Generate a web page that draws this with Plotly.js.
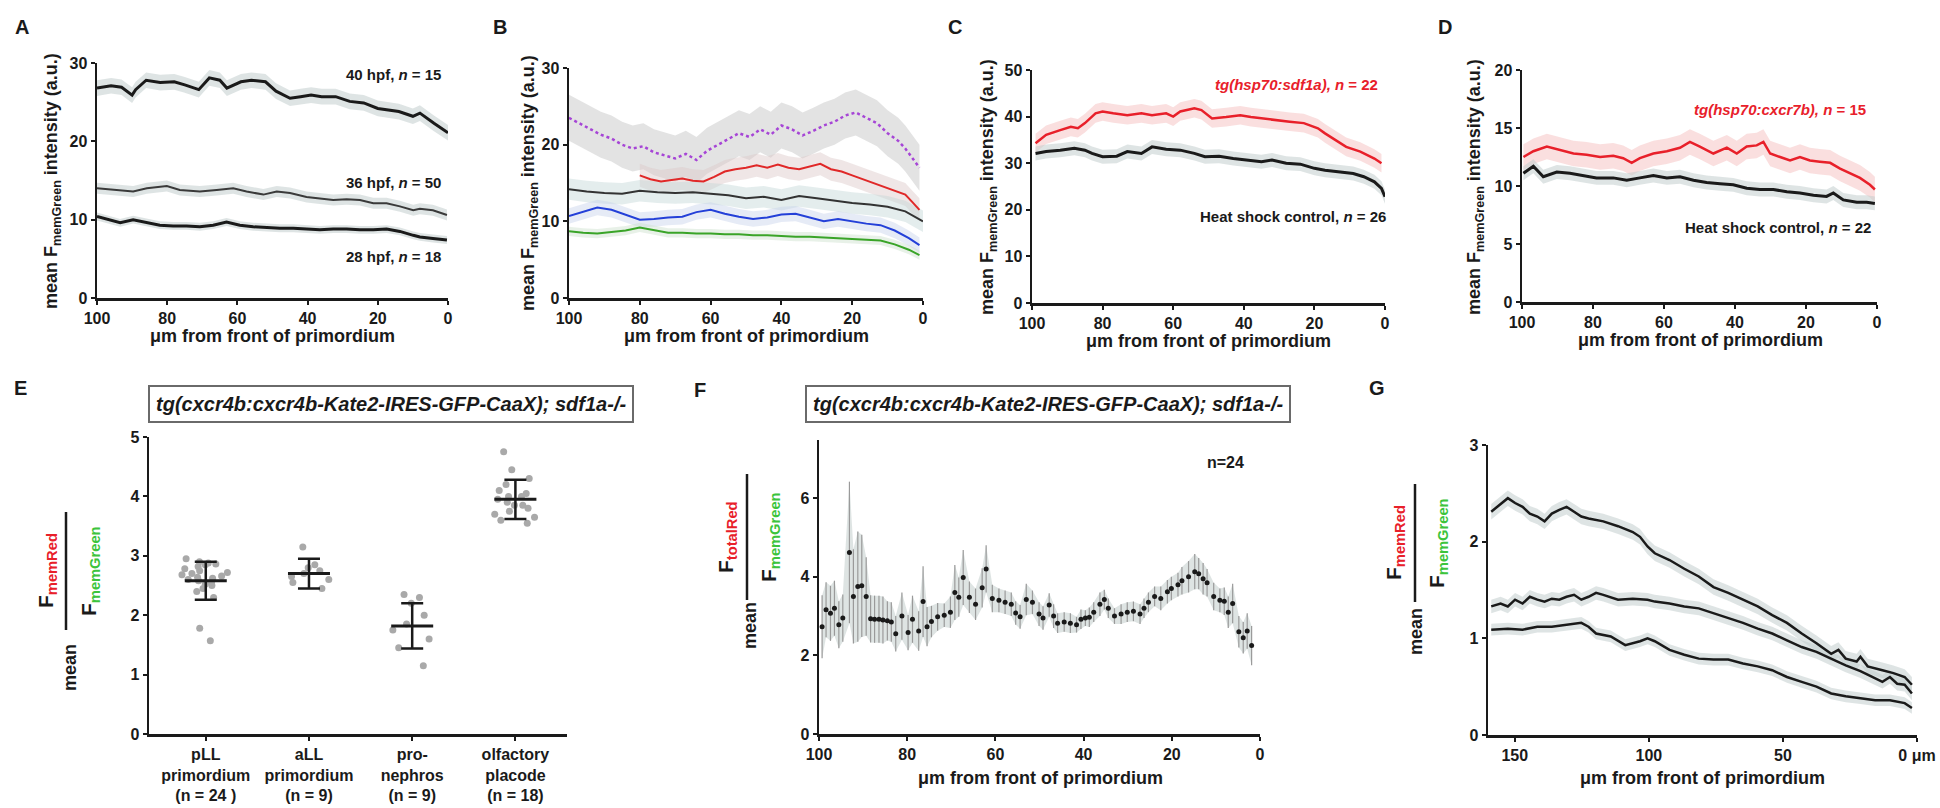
<!DOCTYPE html>
<html><head><meta charset="utf-8">
<script src="https://cdn.plot.ly/plotly-3.0.1.min.js"></script>
<style>html,body{margin:0;padding:0;background:#fff}#chart{width:1940px;height:808px}</style>
</head><body><div id="chart"></div>
<script>
// ---------- Panel A ----------
const a40X = [100,96,93,90,89,86,82,78,75,71,68,65,63,59,56,52,49,45,42,39,36,32,28,24,20,17,14,10,8,4,0];
const a40Y = [26.8,27.1,26.9,25.9,26.6,27.8,27.5,27.6,27.2,26.6,28.1,27.8,26.8,27.6,27.8,27.6,26.4,25.5,25.7,25.9,25.7,25.7,25.1,24.9,24.2,24.0,23.8,23.2,23.6,22.3,21.1];
const a36X = [100,95.4,89.7,85.8,80.1,76.4,70.7,65.9,61.2,57.4,52.6,48.8,45.0,40.3,36.5,32.7,28.9,25.1,21.3,17.5,13.7,9.9,8.0,4.3,0.3];
const a36Y = [14.0,13.8,13.6,14.0,14.3,13.8,13.6,13.8,14.0,13.6,13.2,13.6,13.4,12.9,12.7,12.5,12.6,12.5,12.1,12.1,11.7,11.2,11.4,11.2,10.6];
const a28X = [100,96.3,93.4,89.7,85.8,82.1,78.3,74.5,70.7,66.9,63.1,59.3,55.5,51.7,47.9,44.1,40.3,36.5,32.7,28.9,25.1,21.3,17.5,13.7,9.9,8.0,4.3,0.3];
const a28Y = [10.4,10.0,9.6,10.0,9.6,9.3,9.2,9.2,9.1,9.3,9.7,9.3,9.1,9.0,8.9,8.9,8.8,8.7,8.8,8.8,8.7,8.7,8.8,8.5,8.0,7.8,7.6,7.4];
const aSem = [1.0, 0.7, 0.5];
const aLabels = ["40 hpf, <i>n</i> = 15", "36 hpf, <i>n</i> = 50", "28 hpf, <i>n</i> = 18"];

// ---------- Panel B ----------
const bPurX = [100,97,94,91,88,85,82,79,76,73,70,67,64,61,58,55,52,49,46,43,40,37,34,31,28,25,22,19,16,13,10,7,5,3,1];
const bPurY = [23.5,22.8,22.0,21.3,20.8,20.0,19.5,19.8,19.0,18.6,18.2,18.8,18.0,19.2,20.0,20.8,21.5,21.0,22.0,21.3,22.5,22.0,21.2,21.8,22.5,23.0,23.8,24.2,23.5,22.8,21.5,20.5,19.5,18.3,17.0];
const bRedX = [80,77,74,71,68,65,62,59,56,53,50,47,44,41,38,35,32,29,26,23,20,17,14,11,8,5,3,1];
const bRedY = [16.0,15.5,15.2,15.4,15.6,15.3,15.2,15.8,16.5,16.8,17.0,17.3,17.0,17.4,17.0,16.8,17.2,17.5,16.8,16.5,16.0,15.5,15.0,14.5,14.0,13.5,12.5,11.5];
const bDarkX = [100,95,90,85,80,75,70,65,60,55,50,45,40,35,30,25,20,15,10,5,2,0];
const bDarkY = [14.2,13.9,13.7,13.6,14.0,13.8,13.7,13.8,13.6,13.4,13.0,13.2,12.8,13.3,13.0,12.7,12.4,12.2,11.9,11.3,10.5,10.0];
const bBlueX = [100,96,92,88,84,80,76,72,68,64,60,56,52,48,44,40,36,32,28,24,20,16,12,8,4,1];
const bBlueY = [10.7,11.3,11.8,11.5,10.8,10.2,10.3,10.5,10.6,11.2,11.5,11.0,10.6,10.3,10.5,10.9,11.0,10.5,10.0,10.3,10.0,9.7,9.5,8.8,7.8,6.9];
const bGreenX = [100,96,92,88,84,80,76,72,68,64,60,56,52,48,44,40,36,32,28,24,20,16,12,8,4,1];
const bGreenY = [8.7,8.5,8.4,8.6,8.8,9.2,8.8,8.5,8.5,8.4,8.4,8.3,8.3,8.2,8.2,8.1,8.0,8.0,7.9,7.8,7.7,7.6,7.5,7.0,6.3,5.6];
const bSem = [3.0, 1.5, 1.4, 1.0, 0.6];

// ---------- Panel C ----------
const cRedX = [99,96,92,89,87,85,82,80,77,73,69,66,62,60,58,54,52,49,45,41,38,35,31,27,23,19,17,14,11,7,3,1];
const cRedY = [34.3,36.1,37.1,37.8,37.5,38.6,40.7,41.1,40.7,40.3,40.7,40.3,40.7,40.0,41.1,41.8,41.4,39.6,39.9,40.3,39.9,39.6,39.3,38.9,38.6,37.5,36.4,35.0,33.5,32.5,31.0,30.0];
const cDarkX = [99,96,92,88,85,83,80,76,73,69,66,62,58,54,51,47,43,39,35,32,28,24,20,17,13,9,6,3,1,0];
const cDarkY = [32.1,32.5,32.8,33.2,32.8,32.1,31.4,31.5,32.5,32.1,33.5,33.0,32.8,32.1,31.4,31.5,31.0,30.7,30.3,30.7,30.0,29.8,28.9,28.5,28.2,27.8,27.1,26.0,24.6,22.8];
const cSem = [2.0, 1.5];
const cLabels = ["<i>tg(hsp70:sdf1a), n</i> = 22", "Heat shock control, <i>n</i> = 26"];

// ---------- Panel D ----------
const dRedX = [99.6,96.8,93.0,89.3,85.5,81.8,78.0,74.3,71.5,69.1,66.8,63.0,59.2,55.5,52.7,49.9,46.1,42.3,39.5,36.7,33.9,32.0,30.1,27.3,24.5,21.7,18.9,16.1,13.2,10.4,7.6,4.8,2.0,0.6];
const dRedY = [12.5,13.0,13.4,13.1,12.8,12.7,12.5,12.6,12.4,12.0,12.4,12.8,13.0,13.3,13.8,13.4,12.8,13.3,12.8,13.4,13.5,13.8,12.8,12.5,12.2,12.5,12.2,12.1,12.0,11.5,11.1,10.7,10.1,9.7];
const dDarkX = [99.6,96.8,94.0,90.2,86.5,82.7,79.0,74.3,70.5,66.8,63.0,59.2,55.5,51.7,48.0,44.2,40.5,36.7,33.0,29.2,25.4,21.7,17.9,14.2,12.3,9.5,5.7,2.9,0.6];
const dDarkY = [11.1,11.7,10.8,11.2,11.1,10.9,10.7,10.7,10.5,10.7,10.9,10.7,10.8,10.5,10.3,10.2,10.1,9.8,9.7,9.7,9.5,9.4,9.2,9.1,9.4,8.8,8.6,8.6,8.5];
const dSem = [1.1, 0.6];
const dLabels = ["<i>tg(hsp70:cxcr7b), n</i> = 15", "Heat shock control, <i>n</i> = 22"];

// ---------- Panel E ----------
const eCats = ["pLL<br>primordium<br>(n = 24 )", "aLL<br>primordium<br>(n = 9)", "pro-<br>nephros<br>(n = 9)", "olfactory<br>placode<br>(n = 18)"];
const ePLL = [2.95,2.9,2.88,2.86,2.85,2.82,2.78,2.75,2.72,2.7,2.68,2.66,2.64,2.62,2.6,2.58,2.55,2.52,2.5,2.45,2.4,2.3,1.78,1.57];
const eALL = [3.15,2.85,2.8,2.75,2.7,2.65,2.6,2.55,2.45];
const ePro = [2.35,2.3,2.2,2.0,1.85,1.75,1.6,1.45,1.15];
const eOlf = [4.75,4.45,4.3,4.2,4.1,4.05,4.0,3.95,3.9,3.85,3.8,3.75,3.7,3.65,3.6,3.55,3.85,4.0];
const eMean = [2.58, 2.7, 1.82, 3.95];
const eSD = [0.32, 0.25, 0.38, 0.33];
const boxTitle = "<i>tg(cxcr4b:cxcr4b-Kate2-IRES-GFP-CaaX); sdf1a-/-</i>";

// ---------- Panel F ----------
const fX = [99.3,98.4,97.4,96.5,95.5,94.6,93.1,92.2,91.2,90.3,89.3,88.3,87.4,86.4,85.5,84.5,83.6,82.6,81.2,79.8,78.8,77.4,76.4,75.5,74.5,73.1,71.6,70.2,69.2,68.3,67.3,65.9,64.5,63.0,62.1,60.7,59.2,57.8,56.4,55.4,54.4,53.0,51.6,50.1,49.2,47.8,46.8,45.9,44.4,43.0,41.6,40.6,39.6,38.7,37.7,36.3,35.3,34.4,33.0,31.5,30.1,28.7,27.2,26.3,25.3,23.9,22.5,21.0,20.1,18.6,17.7,16.2,14.8,13.9,12.9,12.0,10.5,9.1,8.1,7.2,6.2,4.8,3.8,2.9,1.9];
const fY = [2.73,3.16,3.07,3.2,2.78,2.95,4.62,3.5,3.75,3.77,3.5,2.93,2.92,2.92,2.9,2.88,2.85,2.55,3.0,2.58,2.92,2.62,3.37,2.73,2.86,2.98,3.02,3.1,3.6,3.48,3.98,3.48,3.3,3.72,4.2,3.45,3.4,3.35,3.3,3.08,2.98,3.42,3.35,3.05,2.95,3.28,3.0,2.82,2.85,2.82,2.78,2.92,2.95,2.97,3.1,3.3,3.42,3.2,3.0,3.05,3.1,3.12,3.05,3.2,3.35,3.5,3.45,3.62,3.7,3.8,3.9,4.0,4.13,4.08,3.95,3.85,3.5,3.4,3.38,3.1,3.32,2.6,2.45,2.62,2.25];
const fErr = [0.8,0.7,0.7,0.7,0.6,0.6,1.8,1.2,1.4,1.3,1.0,0.6,0.6,0.6,0.6,0.5,0.5,0.45,0.6,0.45,0.6,0.5,0.9,0.5,0.4,0.35,0.3,0.4,0.7,0.5,0.7,0.4,0.4,0.5,0.6,0.35,0.3,0.3,0.3,0.3,0.3,0.4,0.3,0.3,0.3,0.3,0.3,0.25,0.25,0.25,0.2,0.25,0.2,0.25,0.25,0.3,0.25,0.25,0.2,0.25,0.25,0.25,0.25,0.25,0.25,0.25,0.3,0.3,0.3,0.3,0.35,0.4,0.45,0.4,0.4,0.35,0.35,0.3,0.35,0.4,0.5,0.4,0.4,0.45,0.5];
const fLabel = "n=24";

// ---------- Panel G ----------
const gTopX = [158.8,156.7,154.7,152.6,149.9,147.1,144.4,141.6,138.9,136.2,133.4,130.7,127.9,125.2,122.5,117.0,111.5,106.0,103.3,100.5,97.8,92.3,86.8,81.4,75.9,70.4,64.9,59.4,54.0,48.5,43.0,37.5,32.0,29.3,26.6,22.5,21.1,18.4,12.9,8.8,4.6,1.9];
const gTopY = [2.31,2.36,2.41,2.45,2.40,2.36,2.29,2.26,2.21,2.29,2.33,2.36,2.31,2.26,2.24,2.21,2.16,2.10,2.05,1.95,1.88,1.81,1.72,1.64,1.53,1.47,1.40,1.33,1.24,1.16,1.05,0.95,0.84,0.88,0.79,0.76,0.81,0.71,0.67,0.64,0.60,0.52];
const gMidX = [158.8,155.3,152.6,149.9,147.1,144.4,141.6,138.9,136.2,133.4,130.7,127.9,125.2,122.5,119.7,117.0,111.5,106.0,100.5,97.8,92.3,86.8,81.4,75.9,70.4,64.9,59.4,54.0,48.5,43.0,37.5,32.0,26.6,21.1,15.6,12.9,10.1,7.4,4.6,1.9];
const gMidY = [1.33,1.36,1.33,1.40,1.36,1.43,1.40,1.38,1.41,1.40,1.43,1.45,1.40,1.43,1.47,1.45,1.40,1.41,1.40,1.38,1.36,1.33,1.31,1.26,1.21,1.16,1.10,1.05,0.98,0.91,0.86,0.79,0.72,0.66,0.59,0.55,0.60,0.53,0.52,0.43];
const gLowX = [158.8,152.6,147.1,141.6,136.2,130.7,125.2,122.5,119.7,114.2,108.8,103.3,100.5,97.8,92.3,86.8,81.4,75.9,70.4,64.9,59.4,54.0,48.5,43.0,37.5,32.0,26.6,21.1,15.6,10.1,4.6,1.9];
const gLowY = [1.09,1.10,1.09,1.12,1.12,1.14,1.16,1.12,1.05,1.02,0.93,0.97,1.00,0.97,0.88,0.83,0.79,0.78,0.78,0.74,0.71,0.67,0.60,0.55,0.50,0.43,0.40,0.38,0.36,0.36,0.33,0.28];
const gSem = [0.08, 0.07, 0.06];
const gTickVals = [150, 100, 50, 0];
const gTickText = ["150", "100", "50", "0 μm"];

// ---------- helpers ----------
const W = 1940, H = 808;
const FONT = "Liberation Sans, Arial, Helvetica, sans-serif";
const INK = "#1a1a1a";
const px = v => v / W, py = v => 1 - v / H;
const RED = "#e8202a", GREEN = "#3cc43c";
const TICKFONT = {family:FONT, size:16, color:INK, weight:"bold"};

function xa(x0, x1, range, extra) {
  return Object.assign({domain:[px(x0), px(x1)], range:range, autorange:false, showline:true, linecolor:INK,
    linewidth:2.5, ticks:"outside", ticklen:4, tickwidth:2, tickcolor:INK, showgrid:false, zeroline:false,
    tickfont:TICKFONT, fixedrange:true}, extra || {});
}
function ya(top, bot, range, extra) {
  return Object.assign({domain:[py(bot), py(top)], range:range, autorange:false, showline:true, linecolor:INK,
    linewidth:2.5, ticks:"outside", ticklen:4, tickwidth:2, tickcolor:INK, showgrid:false, zeroline:false,
    tickfont:TICKFONT, fixedrange:true}, extra || {});
}
function ann(text, x, y, o) {
  return Object.assign({text:text, xref:"paper", yref:"paper", x:px(x), y:py(y), showarrow:false,
    xanchor:"center", yanchor:"middle", font:{family:FONT, size:15, color:INK, weight:"bold"}}, o || {});
}
function band(xs, ys, h, xax, yax, color) {
  return [
    {x:xs, y:ys.map(v => v + h), xaxis:xax, yaxis:yax, mode:"lines", line:{width:0, color:"rgba(0,0,0,0)"}, hoverinfo:"skip"},
    {x:xs, y:ys.map(v => v - h), xaxis:xax, yaxis:yax, mode:"lines", line:{width:0, color:"rgba(0,0,0,0)"}, fill:"tonexty", fillcolor:color, hoverinfo:"skip"}
  ];
}
function line(xs, ys, xax, yax, color, width, dash) {
  return {x:xs, y:ys, xaxis:xax, yaxis:yax, mode:"lines", line:{color:color, width:width, dash:dash || "solid"}};
}
const GREYBAND = "rgba(195,205,205,0.55)";
const PINKBAND = "rgba(245,185,185,0.45)";

const traces = [];
// A
traces.push(...band(a40X, a40Y, aSem[0], "x", "y", GREYBAND));
traces.push(...band(a36X, a36Y, aSem[1], "x", "y", GREYBAND));
traces.push(...band(a28X, a28Y, aSem[2], "x", "y", GREYBAND));
traces.push(line(a40X, a40Y, "x", "y", INK, 3));
traces.push(line(a36X, a36Y, "x", "y", "#3a3a3a", 2));
traces.push(line(a28X, a28Y, "x", "y", INK, 3));
// B
traces.push(...band(bPurX, bPurY, bSem[0], "x2", "y2", "rgba(200,200,200,0.5)"));
traces.push(...band(bRedX, bRedY, bSem[1], "x2", "y2", "rgba(220,200,200,0.45)"));
traces.push(...band(bDarkX, bDarkY, bSem[2], "x2", "y2", "rgba(195,215,215,0.45)"));
traces.push(...band(bBlueX, bBlueY, bSem[3], "x2", "y2", "rgba(200,210,235,0.45)"));
traces.push(...band(bGreenX, bGreenY, bSem[4], "x2", "y2", "rgba(205,225,205,0.45)"));
traces.push(line(bPurX, bPurY, "x2", "y2", "#a645d6", 2.5, "dot"));
traces.push(line(bRedX, bRedY, "x2", "y2", "#e02828", 2));
traces.push(line(bDarkX, bDarkY, "x2", "y2", "#333333", 2));
traces.push(line(bBlueX, bBlueY, "x2", "y2", "#2440d8", 2));
traces.push(line(bGreenX, bGreenY, "x2", "y2", "#3aa428", 2));
// C
traces.push(...band(cRedX, cRedY, cSem[0], "x3", "y3", PINKBAND));
traces.push(...band(cDarkX, cDarkY, cSem[1], "x3", "y3", GREYBAND));
traces.push(line(cRedX, cRedY, "x3", "y3", RED, 2.5));
traces.push(line(cDarkX, cDarkY, "x3", "y3", INK, 3));
// D
traces.push(...band(dRedX, dRedY, dSem[0], "x4", "y4", PINKBAND));
traces.push(...band(dDarkX, dDarkY, dSem[1], "x4", "y4", GREYBAND));
traces.push(line(dRedX, dRedY, "x4", "y4", RED, 2.5));
traces.push(line(dDarkX, dDarkY, "x4", "y4", INK, 3));
// E
[ePLL, eALL, ePro, eOlf].forEach((vals, i) => {
  traces.push({type:"box", x:vals.map(() => eCats[i]), y:vals, xaxis:"x5", yaxis:"y5", boxpoints:"all",
    jitter:0.9, pointpos:0, width:0.55, fillcolor:"rgba(0,0,0,0)", line:{color:"rgba(0,0,0,0)", width:0},
    marker:{color:"#a9a9a9", size:7}, hoveron:"points"});
});
traces.push({type:"scatter", x:eCats, y:eMean, xaxis:"x5", yaxis:"y5", mode:"markers",
  marker:{symbol:"line-ew", size:30, color:INK, line:{color:INK, width:3}},
  error_y:{type:"data", array:eSD, visible:true, color:INK, thickness:2.5, width:11}});
// F
traces.push({x:fX, y:fY.map((v, i) => v + fErr[i]), xaxis:"x6", yaxis:"y6", mode:"lines", line:{width:0, color:"rgba(0,0,0,0)"}, hoverinfo:"skip"});
traces.push({x:fX, y:fY.map((v, i) => v - fErr[i]), xaxis:"x6", yaxis:"y6", mode:"lines", line:{width:0, color:"rgba(0,0,0,0)"}, fill:"tonexty", fillcolor:"rgba(200,210,208,0.6)", hoverinfo:"skip"});
traces.push({x:fX, y:fY, xaxis:"x6", yaxis:"y6", mode:"markers", marker:{color:INK, size:5},
  error_y:{type:"data", array:fErr, visible:true, color:"#9a9a9a", thickness:1.2, width:0}});
// G
traces.push(...band(gTopX, gTopY, gSem[0], "x7", "y7", GREYBAND));
traces.push(...band(gMidX, gMidY, gSem[1], "x7", "y7", GREYBAND));
traces.push(...band(gLowX, gLowY, gSem[2], "x7", "y7", GREYBAND));
traces.push(line(gTopX, gTopY, "x7", "y7", INK, 2.5));
traces.push(line(gMidX, gMidY, "x7", "y7", INK, 2.5));
traces.push(line(gLowX, gLowY, "x7", "y7", INK, 2.5));

const xTopTicks = {tickmode:"linear", tick0:0, dtick:20};
const layout = {
  width:W, height:H, margin:{l:0, r:0, t:0, b:0}, paper_bgcolor:"#fff", plot_bgcolor:"rgba(0,0,0,0)",
  showlegend:false, font:{family:FONT, color:INK},
  xaxis: xa(97, 448, [100, 0], Object.assign({anchor:"y"}, xTopTicks)),
  yaxis: ya(63, 298, [0, 30], {anchor:"x", dtick:10}),
  xaxis2: xa(569, 923, [100, 0], Object.assign({anchor:"y2"}, xTopTicks)),
  yaxis2: ya(68, 298, [0, 30], {anchor:"x2", dtick:10}),
  xaxis3: xa(1032, 1385, [100, 0], Object.assign({anchor:"y3"}, xTopTicks)),
  yaxis3: ya(70, 303, [0, 50], {anchor:"x3", dtick:10}),
  xaxis4: xa(1522, 1877, [100, 0], Object.assign({anchor:"y4"}, xTopTicks)),
  yaxis4: ya(70, 302, [0, 20], {anchor:"x4", dtick:5}),
  xaxis5: xa(149, 567, [-0.55, 3.5], {anchor:"y5", type:"category", categoryorder:"array", categoryarray:eCats}),
  yaxis5: ya(437, 734, [0, 5], {anchor:"x5", dtick:1}),
  xaxis6: xa(819, 1260, [100, 0], Object.assign({anchor:"y6"}, xTopTicks)),
  yaxis6: ya(440, 734, [0, 7.48], {anchor:"x6", tickvals:[0, 2, 4, 6]}),
  xaxis7: xa(1488, 1917, [160, 0], {anchor:"y7", tickvals:gTickVals, ticktext:gTickText}),
  yaxis7: ya(445, 735, [0, 3], {anchor:"x7", dtick:1}),
  shapes: [
    {type:"line", xref:"paper", yref:"paper", x0:px(66), x1:px(66), y0:py(512), y1:py(630), line:{color:INK, width:2.5}},
    {type:"line", xref:"paper", yref:"paper", x0:px(747), x1:px(747), y0:py(474), y1:py(600), line:{color:INK, width:2.5}},
    {type:"line", xref:"paper", yref:"paper", x0:px(1415), x1:px(1415), y0:py(484), y1:py(602), line:{color:INK, width:2.5}}
  ],
  annotations: []
};
const A = layout.annotations;
// panel letters
[["A",22,27],["B",500,27],["C",955,27],["D",1445,27],["E",20,388],["F",700,390],["G",1377,388]].forEach(l =>
  A.push(ann(l[0], l[1], l[2], {font:{family:FONT, size:20, color:INK, weight:"bold"}})));
// top y titles
const yTop = "mean F<sub>memGreen</sub> intensity (a.u.)";
[[53,181],[530,183],[988,187],[1475,187]].forEach(p => A.push(ann(yTop, p[0], p[1], {textangle:-90, font:{family:FONT, size:18, color:INK, weight:"bold"}})));
// x titles
const xt = "μm from front of primordium";
[[272,336],[746,336],[1208,341],[1700,340],[1040,778],[1702,778]].forEach(p => A.push(ann(xt, p[0], p[1], {font:{family:FONT, size:18, color:INK, weight:"bold"}})));
// A labels
const lblFont = c => ({family:FONT, size:15, color:c, weight:"bold"});
A.push(ann(aLabels[0], 443, 75, {xanchor:"right", font:lblFont(INK)}));
A.push(ann(aLabels[1], 443, 183, {xanchor:"right", font:lblFont(INK)}));
A.push(ann(aLabels[2], 443, 257, {xanchor:"right", font:lblFont(INK)}));
// C, D labels
A.push(ann(cLabels[0], 1380, 85, {xanchor:"right", font:lblFont(RED)}));
A.push(ann(cLabels[1], 1388, 216, {xanchor:"right", font:lblFont(INK)}));
A.push(ann(dLabels[0], 1868, 109, {xanchor:"right", font:lblFont(RED)}));
A.push(ann(dLabels[1], 1873, 227, {xanchor:"right", font:lblFont(INK)}));
// boxed titles
[[391,404],[1048,404]].forEach(p => A.push(ann(boxTitle, p[0], p[1], {bordercolor:"#6a6a6a", borderwidth:2, borderpad:6,
  font:{family:FONT, size:20, color:INK, weight:"bold"}})));
// F n label
A.push(ann(fLabel, 1225, 463, {font:{family:FONT, size:16, color:INK, weight:"bold"}}));
// fraction y-labels
const redSub = s => "F<sub><span style='color:" + RED + "'>" + s + "</span></sub>";
const greenSub = s => "F<sub><span style='color:" + GREEN + "'>" + s + "</span></sub>";
const fracFont = {family:FONT, size:21, color:INK, weight:"bold"};
const meanFont = {family:FONT, size:18, color:INK, weight:"bold"};
A.push(ann("mean", 70, 668, {textangle:-90, font:meanFont}));
A.push(ann(redSub("memRed"), 47, 571, {textangle:-90, font:fracFont}));
A.push(ann(greenSub("memGreen"), 90, 571, {textangle:-90, font:fracFont}));
A.push(ann("mean", 750, 626, {textangle:-90, font:meanFont}));
A.push(ann(redSub("totalRed"), 727, 537, {textangle:-90, font:fracFont}));
A.push(ann(greenSub("memGreen"), 770, 537, {textangle:-90, font:fracFont}));
A.push(ann("mean", 1416, 632, {textangle:-90, font:meanFont}));
A.push(ann(redSub("memRed"), 1395, 543, {textangle:-90, font:fracFont}));
A.push(ann(greenSub("memGreen"), 1438, 543, {textangle:-90, font:fracFont}));

Plotly.newPlot("chart", traces, layout, {staticPlot:true, displayModeBar:false});
</script></body></html>
